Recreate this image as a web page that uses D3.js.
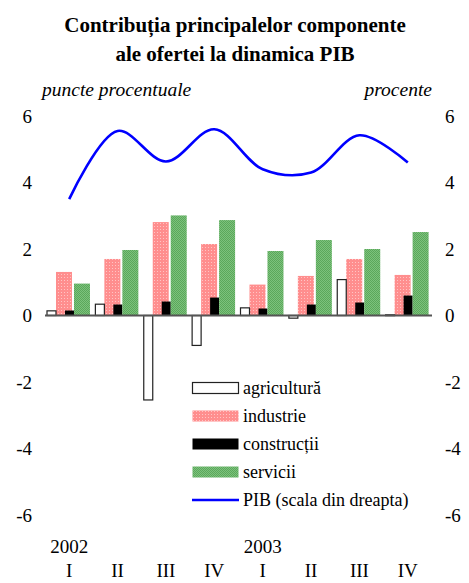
<!DOCTYPE html>
<html>
<head>
<meta charset="utf-8">
<script src="https://cdn.jsdelivr.net/npm/d3@7"></script>
<style>
  html, body { margin: 0; padding: 0; background: #fff; }
  svg { display: block; }
  svg text { font-family: "Liberation Serif", "Times New Roman", serif; fill: #000; }
</style>
</head>
<body>
<svg id="chart" width="469" height="583"></svg>
<script>
// Quarters and year labels
const quarters = ["I", "II", "III", "IV", "I", "II", "III", "IV"];
const years = [{ label: "2002", at: 0 }, { label: "2003", at: 4 }];

// Contributions to GDP growth (percentage points)
const agricultura = [0.14, 0.34, -2.54, -0.90, 0.23, -0.08, 1.08, 0.02];
const industrie   = [1.31, 1.70, 2.81, 2.15, 0.93, 1.19, 1.70, 1.22];
const constructii = [0.15, 0.33, 0.42, 0.54, 0.21, 0.33, 0.39, 0.60];
const servicii    = [0.96, 1.97, 3.01, 2.87, 1.94, 2.27, 2.00, 2.51];

// GDP growth (percent, right-hand scale)
const pib = [3.5, 5.55, 4.63, 5.6, 4.4, 4.3, 5.42, 4.6];

const yTicks = [-6, -4, -2, 0, 2, 4, 6];

const svg = d3.select("#chart");
const idx = d3.range(quarters.length);

const x = d3.scaleBand().domain(idx).range([45, 432]).paddingInner(0).paddingOuter(0);
const y = d3.scaleLinear().domain([-6, 6]).range([515, 116]);
const yR = d3.scaleLinear().domain([-6, 6]).range([515, 116]);

// Fill patterns
const defs = svg.append("defs");
const pInd = defs.append("pattern").attr("id", "pInd").attr("width", 3).attr("height", 3)
  .attr("patternUnits", "userSpaceOnUse");
pInd.append("rect").attr("width", 3).attr("height", 3).attr("fill", "#ff8e8e");
pInd.append("rect").attr("x", 1).attr("y", 1).attr("width", 1).attr("height", 1).attr("fill", "#ffc4c4");
const pSer = defs.append("pattern").attr("id", "pSer").attr("width", 2).attr("height", 2)
  .attr("patternUnits", "userSpaceOnUse");
pSer.append("rect").attr("width", 2).attr("height", 2).attr("fill", "#7cc27c");
pSer.append("rect").attr("x", 0).attr("y", 0).attr("width", 1).attr("height", 1).attr("fill", "#5ba75b");
pSer.append("rect").attr("x", 1).attr("y", 1).attr("width", 1).attr("height", 1).attr("fill", "#5ba75b");

// Title
const title = svg.append("g").attr("text-anchor", "middle")
  .attr("font-weight", "bold").attr("font-size", 21);
title.append("text").attr("x", 235).attr("y", 32).text("Contribuția principalelor componente");
title.append("text").attr("x", 235).attr("y", 61).text("ale ofertei la dinamica PIB");

// Axis unit labels
svg.append("text").attr("x", 42).attr("y", 96).attr("font-style", "italic")
  .attr("font-size", 19.5).text("puncte procentuale");
svg.append("text").attr("x", 432).attr("y", 96).attr("font-style", "italic")
  .attr("font-size", 19.5).attr("text-anchor", "end").text("procente");

const fmt = d => String(d);

// Left axis labels
const axL = svg.append("g").attr("transform", "translate(32,0)")
  .call(d3.axisLeft(y).tickValues(yTicks).tickSize(0).tickPadding(0).tickFormat(fmt));
axL.select(".domain").remove();
axL.attr("font-family", null).attr("font-size", 19);

// Right axis labels
const axR = svg.append("g").attr("transform", "translate(445,0)")
  .call(d3.axisRight(yR).tickValues(yTicks).tickSize(0).tickPadding(0).tickFormat(fmt));
axR.select(".domain").remove();
axR.attr("font-family", null).attr("font-size", 19);

// Bar placement inside each quarter (fractions of band width)
const bw = x.bandwidth();
const slots = {
  agr: [2 / 48.4, 11 / 48.4],
  ind: [11 / 48.4, 27 / 48.4],
  con: [20 / 48.4, 29 / 48.4],
  ser: [29 / 48.4, 45 / 48.4]
};

function bars(data, slot, fill, stroke, cls) {
  svg.append("g").attr("class", cls).selectAll("rect").data(data).join("rect")
    .attr("x", (d, i) => x(i) + slot[0] * bw)
    .attr("width", (slot[1] - slot[0]) * bw)
    .attr("y", d => y(Math.max(0, d)))
    .attr("height", d => Math.max(0.8, Math.abs(y(d) - y(0))))
    .attr("fill", fill)
    .attr("stroke", stroke)
    .attr("stroke-width", stroke === "none" ? 0 : 1.2);
}

bars(industrie, slots.ind, "url(#pInd)", "none", "industrie");
bars(constructii, slots.con, "#000", "none", "constructii");
bars(servicii, slots.ser, "url(#pSer)", "none", "servicii");
bars(agricultura, slots.agr, "#fff", "#222", "agricultura");

// Zero line
svg.append("line").attr("x1", 45).attr("x2", 432).attr("y1", y(0)).attr("y2", y(0))
  .attr("stroke", "#555").attr("stroke-width", 2);

// GDP line
const line = d3.line()
  .x((d, i) => x(i) + bw / 2)
  .y(d => yR(d))
  .curve(d3.curveCatmullRom.alpha(0.5));
svg.append("path").datum(pib).attr("d", line)
  .attr("fill", "none").attr("stroke", "#0000ff").attr("stroke-width", 2.6);

// Category labels
const xa = svg.append("g").attr("font-size", 19).attr("text-anchor", "middle");
xa.selectAll("text.q").data(quarters).join("text").attr("class", "q")
  .attr("x", (d, i) => x(i) + bw / 2).attr("y", 577).text(d => d);
xa.selectAll("text.yr").data(years).join("text").attr("class", "yr")
  .attr("x", d => x(d.at) + bw / 2).attr("y", 553).text(d => d.label);

// Legend
const legendItems = [
  { label: "agricultură", type: "box", fill: "#fff", stroke: "#222" },
  { label: "industrie", type: "box", fill: "url(#pInd)", stroke: "none" },
  { label: "construcții", type: "box", fill: "#000", stroke: "none" },
  { label: "servicii", type: "box", fill: "url(#pSer)", stroke: "none" },
  { label: "PIB (scala din dreapta)", type: "line" }
];
const lg = svg.append("g").attr("font-size", 18);
const rows = lg.selectAll("g").data(legendItems).join("g")
  .attr("transform", (d, i) => `translate(192,${388 + i * 28})`);
rows.filter(d => d.type === "box").append("rect")
  .attr("x", 0.5).attr("y", -5.5).attr("width", 46).attr("height", 11)
  .attr("fill", d => d.fill).attr("stroke", d => d.stroke).attr("stroke-width", 1.2);
rows.filter(d => d.type === "line").append("line")
  .attr("x1", 0).attr("x2", 47).attr("y1", 0).attr("y2", 0)
  .attr("stroke", "#0000ff").attr("stroke-width", 2.6);
rows.append("text").attr("x", 51).attr("y", 6).text(d => d.label);
</script>
</body>
</html>
